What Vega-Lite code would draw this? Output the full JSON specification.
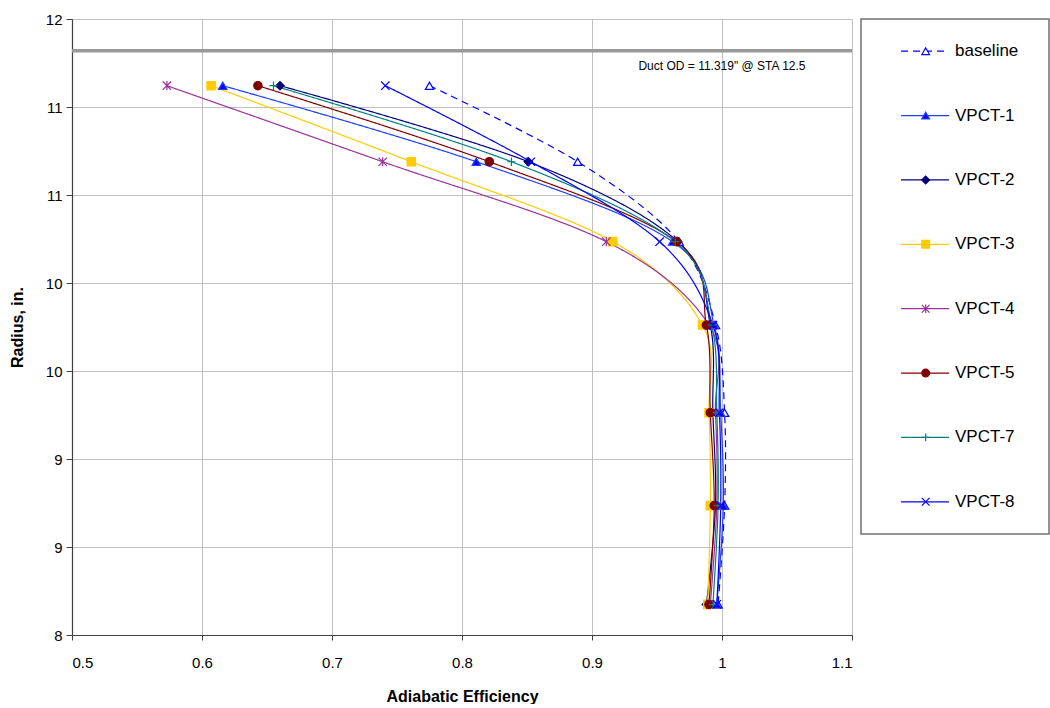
{
  "$schema": "https://vega.github.io/schema/vega-lite/v6.json",
  "padding": {"left": 9, "top": 12, "right": 0, "bottom": 0},
  "bounds": "flush",
  "spacing": 9,
  "config": {
    "font": "Liberation Sans",
    "view": {"stroke": null},
    "axis": {
      "labelFont": "Liberation Sans",
      "titleFont": "Liberation Sans",
      "labelFontSize": 15,
      "titleFontSize": 16,
      "titleFontWeight": "bold",
      "labelColor": "#000000",
      "titleColor": "#000000",
      "gridColor": "#c0c0c0",
      "gridWidth": 1,
      "domainColor": "#404040",
      "domainWidth": 1.2,
      "tickColor": "#404040",
      "tickSize": 6
    }
  },
  "datasets": {
    "profiles": [
      {"series": "baseline", "r": 11.121, "eff": 0.775},
      {"series": "baseline", "r": 10.689, "eff": 0.889},
      {"series": "baseline", "r": 10.235, "eff": 0.967},
      {"series": "baseline", "r": 9.761, "eff": 0.995},
      {"series": "baseline", "r": 9.263, "eff": 1.002},
      {"series": "baseline", "r": 8.735, "eff": 1.002},
      {"series": "baseline", "r": 8.174, "eff": 0.997},

      {"series": "VPCT-1", "r": 11.121, "eff": 0.616},
      {"series": "VPCT-1", "r": 10.689, "eff": 0.811},
      {"series": "VPCT-1", "r": 10.235, "eff": 0.962},
      {"series": "VPCT-1", "r": 9.761, "eff": 0.994},
      {"series": "VPCT-1", "r": 9.263, "eff": 0.999},
      {"series": "VPCT-1", "r": 8.735, "eff": 1.001},
      {"series": "VPCT-1", "r": 8.174, "eff": 0.996},

      {"series": "VPCT-2", "r": 11.121, "eff": 0.660},
      {"series": "VPCT-2", "r": 10.689, "eff": 0.851},
      {"series": "VPCT-2", "r": 10.235, "eff": 0.966},
      {"series": "VPCT-2", "r": 9.761, "eff": 0.991},
      {"series": "VPCT-2", "r": 9.263, "eff": 0.993},
      {"series": "VPCT-2", "r": 8.735, "eff": 0.995},
      {"series": "VPCT-2", "r": 8.174, "eff": 0.988},

      {"series": "VPCT-3", "r": 11.121, "eff": 0.607},
      {"series": "VPCT-3", "r": 10.689, "eff": 0.761},
      {"series": "VPCT-3", "r": 10.235, "eff": 0.916},
      {"series": "VPCT-3", "r": 9.761, "eff": 0.985},
      {"series": "VPCT-3", "r": 9.263, "eff": 0.990},
      {"series": "VPCT-3", "r": 8.735, "eff": 0.991},
      {"series": "VPCT-3", "r": 8.174, "eff": 0.989},

      {"series": "VPCT-4", "r": 11.121, "eff": 0.573},
      {"series": "VPCT-4", "r": 10.689, "eff": 0.739},
      {"series": "VPCT-4", "r": 10.235, "eff": 0.911},
      {"series": "VPCT-4", "r": 9.761, "eff": 0.990},
      {"series": "VPCT-4", "r": 9.263, "eff": 0.995},
      {"series": "VPCT-4", "r": 8.735, "eff": 0.996},
      {"series": "VPCT-4", "r": 8.174, "eff": 0.991},

      {"series": "VPCT-5", "r": 11.121, "eff": 0.643},
      {"series": "VPCT-5", "r": 10.689, "eff": 0.821},
      {"series": "VPCT-5", "r": 10.235, "eff": 0.965},
      {"series": "VPCT-5", "r": 9.761, "eff": 0.988},
      {"series": "VPCT-5", "r": 9.263, "eff": 0.991},
      {"series": "VPCT-5", "r": 8.735, "eff": 0.994},
      {"series": "VPCT-5", "r": 8.174, "eff": 0.990},

      {"series": "VPCT-7", "r": 11.121, "eff": 0.655},
      {"series": "VPCT-7", "r": 10.689, "eff": 0.838},
      {"series": "VPCT-7", "r": 10.235, "eff": 0.964},
      {"series": "VPCT-7", "r": 9.761, "eff": 0.992},
      {"series": "VPCT-7", "r": 9.263, "eff": 0.996},
      {"series": "VPCT-7", "r": 8.735, "eff": 0.997},
      {"series": "VPCT-7", "r": 8.174, "eff": 0.993},

      {"series": "VPCT-8", "r": 11.121, "eff": 0.741},
      {"series": "VPCT-8", "r": 10.689, "eff": 0.853},
      {"series": "VPCT-8", "r": 10.235, "eff": 0.952},
      {"series": "VPCT-8", "r": 9.761, "eff": 0.993},
      {"series": "VPCT-8", "r": 9.263, "eff": 0.998},
      {"series": "VPCT-8", "r": 8.735, "eff": 0.999},
      {"series": "VPCT-8", "r": 8.174, "eff": 0.996}
    ],
    "duct": [
      {"r": 11.319, "eff": 1.0, "label": "Duct OD = 11.319\" @ STA 12.5"}
    ],
    "series": [
      {"series": "baseline"},
      {"series": "VPCT-1"},
      {"series": "VPCT-2"},
      {"series": "VPCT-3"},
      {"series": "VPCT-4"},
      {"series": "VPCT-5"},
      {"series": "VPCT-7"},
      {"series": "VPCT-8"}
    ]
  },
  "resolve": {"scale": {"x": "independent", "y": "independent"}},
  "hconcat": [
    {
      "width": 780,
      "height": 616,
      "layer": [
        {
          "data": {"name": "duct"},
          "mark": {"type": "rule", "color": "#999999", "strokeWidth": 3.5},
          "encoding": {
            "y": {"field": "r", "type": "quantitative", "scale": {"domain": [8, 11.5]}}
          }
        },
        {
          "data": {"name": "duct"},
          "mark": {"type": "text", "fontSize": 12, "align": "center", "baseline": "middle", "dy": 15, "color": "#000000"},
          "encoding": {
            "x": {"field": "eff", "type": "quantitative", "scale": {"domain": [0.5, 1.1]}},
            "y": {"field": "r", "type": "quantitative", "scale": {"domain": [8, 11.5]}},
            "text": {"field": "label", "type": "nominal"}
          }
        },
        {
          "data": {"name": "profiles"},
          "mark": {"type": "line", "interpolate": "cardinal", "tension": 0, "strokeWidth": 1.2},
          "encoding": {
            "x": {
              "field": "eff", "type": "quantitative",
              "scale": {"domain": [0.5, 1.1], "nice": false, "zero": false},
              "axis": {"title": "Adiabatic Efficiency", "values": [0.5, 0.6, 0.7, 0.8, 0.9, 1.0, 1.1], "format": ".1~f", "labelPadding": 15, "titlePadding": 18, "tickSize": 5}
            },
            "y": {
              "field": "r", "type": "quantitative",
              "scale": {"domain": [8, 11.5], "nice": false, "zero": false},
              "axis": {"title": "Radius, in.", "values": [8, 8.5, 9, 9.5, 10, 10.5, 11, 11.5], "labelExpr": "'' + round(datum.value)", "labelPadding": 4, "titlePadding": 20}
            },
            "order": {"field": "r", "type": "quantitative", "sort": "descending"},
            "detail": {"field": "series", "type": "nominal"},
            "stroke": {
              "field": "series", "type": "nominal", "legend": null,
              "scale": {
                "domain": ["baseline", "VPCT-1", "VPCT-2", "VPCT-3", "VPCT-4", "VPCT-5", "VPCT-7", "VPCT-8"],
                "range": ["#0000ff", "#1f3fff", "#000080", "#ffcc00", "#993399", "#800000", "#008080", "#0000ff"]
              }
            },
            "strokeDash": {
              "field": "series", "type": "nominal", "legend": null,
              "scale": {
                "domain": ["baseline", "VPCT-1", "VPCT-2", "VPCT-3", "VPCT-4", "VPCT-5", "VPCT-7", "VPCT-8"],
                "range": [[7, 5], [1, 0], [1, 0], [1, 0], [1, 0], [1, 0], [1, 0], [1, 0]]
              }
            }
          }
        },
        {
          "data": {"name": "profiles"},
          "mark": {"type": "point", "filled": false, "strokeWidth": 1.2, "opacity": 1, "size": 70},
          "encoding": {
            "x": {"field": "eff", "type": "quantitative"},
            "y": {"field": "r", "type": "quantitative"},
            "shape": {
              "field": "series", "type": "nominal", "legend": null,
              "scale": {
                "domain": ["baseline", "VPCT-1", "VPCT-2", "VPCT-3", "VPCT-4", "VPCT-5", "VPCT-7", "VPCT-8"],
                "range": ["triangle-up", "triangle-up", "diamond", "square", "M-1,-1L1,1M-1,1L1,-1M0,-1.1L0,1.1", "circle", "M-1,0L1,0M0,-1L0,1", "M-1,-1L1,1M-1,1L1,-1"]
              }
            },
            "fill": {
              "field": "series", "type": "nominal", "legend": null,
              "scale": {
                "domain": ["baseline", "VPCT-1", "VPCT-2", "VPCT-3", "VPCT-4", "VPCT-5", "VPCT-7", "VPCT-8"],
                "range": ["#ffffff", "#0000ff", "#000080", "#ffcc00", "#800080", "#800000", "#008080", "#0000ff"]
              }
            },
            "stroke": {"field": "series", "type": "nominal", "legend": null}
          }
        }
      ]
    },
    {
      "width": 188,
      "height": 515,
      "view": {"stroke": "#707070", "strokeWidth": 1.5},
      "data": {"name": "series"},
      "layer": [
        {
          "mark": {"type": "rule", "strokeWidth": 1.2},
          "encoding": {
            "x": {"datum": 0.213, "type": "quantitative", "scale": {"domain": [0, 1], "nice": false}, "axis": null},
            "x2": {"datum": 0.468},
            "y": {"field": "series", "type": "nominal", "scale": {"type": "point", "padding": 0.5}, "sort": null, "axis": null},
            "stroke": {"field": "series", "type": "nominal", "legend": null},
            "strokeDash": {"field": "series", "type": "nominal", "legend": null}
          }
        },
        {
          "mark": {"type": "point", "filled": false, "strokeWidth": 1.2, "opacity": 1, "size": 60},
          "encoding": {
            "x": {"datum": 0.344, "type": "quantitative"},
            "y": {"field": "series", "type": "nominal", "sort": null},
            "shape": {"field": "series", "type": "nominal", "legend": null},
            "fill": {"field": "series", "type": "nominal", "legend": null},
            "stroke": {"field": "series", "type": "nominal", "legend": null}
          }
        },
        {
          "mark": {"type": "text", "align": "left", "baseline": "middle", "fontSize": 17, "color": "#000000"},
          "encoding": {
            "x": {"datum": 0.5, "type": "quantitative"},
            "y": {"field": "series", "type": "nominal", "sort": null},
            "text": {"field": "series", "type": "nominal"}
          }
        }
      ]
    }
  ]
}
